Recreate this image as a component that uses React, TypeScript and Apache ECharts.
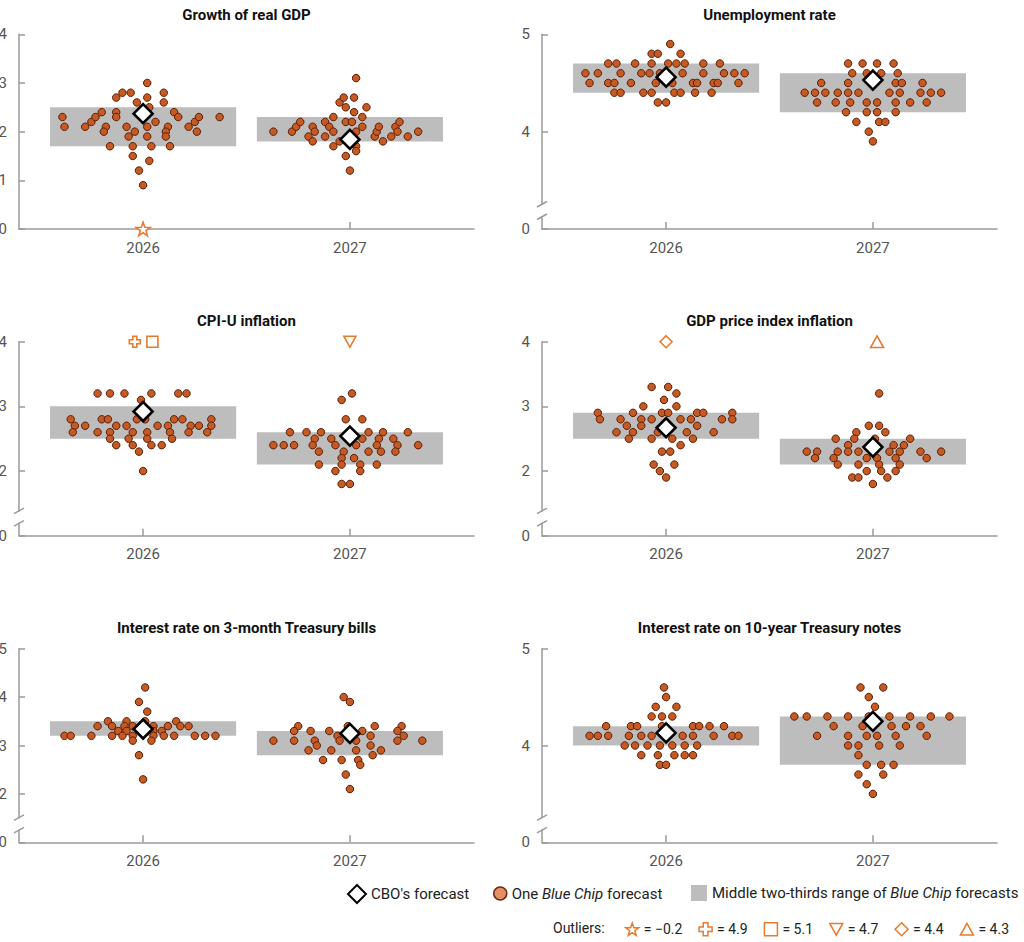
import React, { useEffect, useRef } from "react";
import * as echarts from "echarts";

// ---------- data ----------
const YEARS = ["2026", "2027"];
const TITLES = [
  "Growth of real GDP",
  "Unemployment rate",
  "CPI-U inflation",
  "GDP price index inflation",
  "Interest rate on 3-month Treasury bills",
  "Interest rate on 10-year Treasury notes",
];
// y-axis ranges; the bottom tick is labelled 0 (broken axis when min > 0)
const Y_MIN = [0, 3, 1, 1, 1, 3];
const Y_MAX = [4, 5, 4, 4, 5, 5];

// Blue Chip forecasts: [horizontal jitter within the year's slot, forecast value]
const GDP_2026 = [[-0.39,2.3],[-0.38,2.1],[-0.28,2.1],[-0.25,2.2],[-0.23,2.3],[-0.2,2.4],[-0.18,2.1],[-0.19,2.0],[-0.16,1.7],[-0.13,2.7],[-0.13,2.4],[-0.13,2.3],[-0.1,2.8],[-0.06,2.8],[-0.08,2.1],[-0.07,1.9],[-0.05,1.7],[-0.05,1.5],[-0.04,2.0],[-0.03,2.6],[-0.02,1.2],[0,0.9],[0.02,3.0],[0.02,2.7],[0.03,2.5],[0.02,2.1],[0.02,1.9],[0.03,1.4],[0.04,1.7],[0.06,2.2],[0.1,2.8],[0.1,2.6],[0.12,2.1],[0.11,2.0],[0.11,1.9],[0.13,1.7],[0.15,2.4],[0.17,2.3],[0.22,2.1],[0.25,2.2],[0.27,2.3],[0.26,2.0],[0.37,2.3]];
const GDP_2027 = [[-0.37,2.0],[-0.28,2.0],[-0.26,2.1],[-0.24,2.2],[-0.2,1.9],[-0.18,1.8],[-0.18,2.1],[-0.17,2.0],[-0.12,2.2],[-0.12,1.9],[-0.1,2.1],[-0.08,2.3],[-0.08,2.0],[-0.08,1.7],[-0.05,2.6],[-0.03,2.7],[-0.02,2.5],[-0.02,1.5],[-0.02,2.2],[-0.05,1.8],[0,1.2],[0.01,2.2],[0.02,2.7],[0.02,2.4],[0.03,2.0],[0.03,3.1],[0.03,1.7],[0.03,1.6],[0.06,2.3],[0.06,2.1],[0.08,2.5],[0.12,1.9],[0.13,2.0],[0.14,2.1],[0.16,1.8],[0.2,1.9],[0.22,2.1],[0.24,2.2],[0.23,2.0],[0.28,1.9],[0.33,2.0]];
const UNEMP_2026 = [[0.02,4.9],[-0.07,4.8],[-0.04,4.8],[0.07,4.8],[-0.28,4.7],[-0.24,4.7],[-0.15,4.7],[-0.07,4.7],[0.01,4.7],[0.05,4.7],[0.09,4.7],[0.18,4.7],[0.26,4.7],[-0.39,4.6],[-0.33,4.6],[-0.22,4.6],[-0.12,4.6],[-0.08,4.6],[-0.03,4.6],[0.08,4.6],[0.18,4.6],[0.28,4.6],[0.33,4.6],[0.38,4.6],[-0.37,4.5],[-0.28,4.5],[-0.25,4.5],[-0.17,4.5],[-0.05,4.5],[0.03,4.5],[0.13,4.5],[0.15,4.5],[0.23,4.5],[0.25,4.5],[0.35,4.5],[-0.25,4.4],[-0.22,4.4],[-0.11,4.4],[-0.07,4.4],[0.04,4.4],[0.07,4.4],[0.14,4.4],[0.22,4.4],[-0.04,4.3],[0,4.3]];
const UNEMP_2027 = [[-0.12,4.7],[-0.05,4.7],[0.02,4.7],[0.1,4.7],[-0.1,4.6],[-0.03,4.6],[0.04,4.6],[0.12,4.6],[-0.25,4.5],[-0.12,4.5],[0.11,4.5],[0.14,4.5],[0.24,4.5],[-0.33,4.4],[-0.28,4.4],[-0.23,4.4],[-0.17,4.4],[-0.12,4.4],[-0.07,4.4],[0.08,4.4],[0.13,4.4],[0.23,4.4],[0.28,4.4],[0.33,4.4],[-0.27,4.3],[-0.18,4.3],[-0.11,4.3],[-0.03,4.3],[0.02,4.3],[0.11,4.3],[0.18,4.3],[0.26,4.3],[-0.13,4.2],[-0.03,4.2],[0.02,4.2],[0.11,4.2],[-0.08,4.1],[0.03,4.1],[0.06,4.1],[-0.02,4.0],[0,3.9]];
const CPI_2026 = [[-0.22,3.2],[-0.16,3.2],[-0.09,3.2],[0.04,3.2],[0.17,3.2],[0.21,3.2],[-0.01,3.1],[-0.35,2.8],[-0.2,2.8],[-0.17,2.8],[-0.03,2.8],[0.01,2.8],[0.15,2.8],[0.19,2.8],[0.33,2.8],[-0.33,2.7],[-0.28,2.7],[-0.13,2.7],[-0.08,2.7],[0.07,2.7],[0.12,2.7],[0.23,2.7],[0.27,2.7],[0.33,2.7],[-0.34,2.6],[-0.22,2.6],[-0.16,2.6],[-0.05,2.6],[0.02,2.6],[0.13,2.6],[0.22,2.6],[0.31,2.6],[-0.16,2.5],[-0.07,2.5],[0.02,2.5],[0.14,2.5],[-0.13,2.4],[-0.05,2.4],[0.04,2.4],[0.09,2.4],[-0.02,2.3],[0,2.0]];
const CPI_2027 = [[0.01,3.2],[-0.04,3.1],[-0.02,2.8],[0.06,2.8],[-0.29,2.6],[-0.21,2.6],[-0.14,2.6],[0.09,2.6],[0.16,2.6],[0.28,2.6],[-0.17,2.5],[-0.09,2.5],[0.06,2.5],[0.14,2.5],[0.21,2.5],[-0.37,2.4],[-0.32,2.4],[-0.27,2.4],[-0.18,2.4],[-0.07,2.4],[0.03,2.4],[0.13,2.4],[0.23,2.4],[0.33,2.4],[-0.15,2.3],[-0.03,2.3],[0.09,2.3],[0.15,2.3],[0.22,2.3],[-0.04,2.2],[0.02,2.2],[-0.15,2.1],[-0.04,2.1],[0.05,2.1],[0.13,2.1],[-0.07,2.0],[0.05,2.0],[-0.04,1.8],[0,1.8]];
const GDPPI_2026 = [[-0.07,3.3],[0.01,3.3],[0.05,3.2],[-0.01,3.1],[-0.11,3.0],[0.05,3.0],[-0.33,2.9],[-0.16,2.9],[-0.02,2.9],[0.01,2.9],[0.15,2.9],[0.18,2.9],[0.32,2.9],[-0.32,2.8],[-0.22,2.8],[-0.12,2.8],[-0.07,2.8],[0.07,2.8],[0.12,2.8],[0.27,2.8],[0.32,2.8],[-0.19,2.7],[-0.12,2.7],[0.15,2.7],[-0.24,2.6],[-0.16,2.6],[-0.04,2.6],[0.1,2.6],[0.23,2.6],[-0.18,2.5],[-0.07,2.5],[0.03,2.5],[0.13,2.5],[0.07,2.4],[-0.02,2.3],[0.02,2.3],[-0.06,2.1],[0.04,2.1],[-0.03,2.0],[0,1.9]];
const GDPPI_2027 = [[0.03,3.2],[-0.02,2.7],[0.03,2.7],[-0.08,2.6],[0.06,2.6],[-0.18,2.5],[-0.09,2.5],[0.01,2.5],[0.18,2.5],[-0.12,2.4],[0.1,2.4],[0.15,2.4],[-0.32,2.3],[-0.27,2.3],[-0.17,2.3],[-0.12,2.3],[-0.07,2.3],[0.08,2.3],[0.13,2.3],[0.23,2.3],[0.33,2.3],[-0.28,2.2],[-0.19,2.2],[-0.03,2.2],[0.02,2.2],[0.11,2.2],[0.26,2.2],[-0.17,2.1],[-0.07,2.1],[0.03,2.1],[0.13,2.1],[-0.03,2.0],[0.04,2.0],[0.11,2.0],[-0.1,1.9],[-0.07,1.9],[0.07,1.9],[0,1.8]];
const TBILL_2026 = [[0.01,4.2],[-0.02,3.9],[0.02,3.7],[-0.17,3.5],[-0.08,3.5],[0.01,3.5],[0.16,3.5],[-0.22,3.4],[-0.15,3.4],[-0.09,3.4],[-0.05,3.4],[0.05,3.4],[0.12,3.4],[0.18,3.4],[0.22,3.4],[-0.12,3.3],[-0.08,3.3],[0.05,3.3],[0.09,3.3],[-0.38,3.2],[-0.35,3.2],[-0.25,3.2],[-0.15,3.2],[-0.1,3.2],[-0.05,3.2],[0.05,3.2],[0.1,3.2],[0.15,3.2],[0.25,3.2],[0.3,3.2],[0.35,3.2],[-0.05,3.1],[0.04,3.1],[-0.02,2.8],[0,2.3]];
const TBILL_2027 = [[-0.03,4.0],[0,3.9],[-0.25,3.4],[-0.01,3.4],[0.12,3.4],[0.25,3.4],[-0.27,3.3],[-0.19,3.3],[-0.1,3.3],[0.06,3.3],[0.23,3.3],[-0.06,3.2],[0.1,3.2],[0.26,3.2],[-0.37,3.1],[-0.27,3.1],[-0.17,3.1],[-0.05,3.1],[0.03,3.1],[0.23,3.1],[0.35,3.1],[-0.16,3.0],[0.1,3.0],[-0.2,2.9],[-0.09,2.9],[0.03,2.9],[0.15,2.9],[0.11,2.8],[-0.13,2.7],[-0.04,2.7],[0.04,2.7],[0.05,2.6],[-0.02,2.4],[0,2.1]];
const TNOTE_2026 = [[-0.01,4.6],[0,4.5],[-0.05,4.4],[0.05,4.4],[-0.07,4.3],[-0.02,4.3],[0.03,4.3],[-0.29,4.2],[-0.17,4.2],[-0.14,4.2],[-0.02,4.2],[0.13,4.2],[0.16,4.2],[0.21,4.2],[0.28,4.2],[-0.37,4.1],[-0.33,4.1],[-0.28,4.1],[-0.18,4.1],[-0.12,4.1],[-0.07,4.1],[0.08,4.1],[0.13,4.1],[0.23,4.1],[0.32,4.1],[0.35,4.1],[-0.2,4.0],[-0.15,4.0],[-0.09,4.0],[-0.03,4.0],[0.03,4.0],[0.09,4.0],[0.15,4.0],[-0.12,3.9],[-0.04,3.9],[0.04,3.9],[0.09,3.9],[0.13,3.9],[-0.03,3.8],[0,3.8]];
const TNOTE_2027 = [[-0.06,4.6],[0.05,4.6],[-0.02,4.5],[0.01,4.4],[-0.38,4.3],[-0.32,4.3],[-0.22,4.3],[-0.12,4.3],[-0.02,4.3],[0.08,4.3],[0.18,4.3],[0.28,4.3],[0.37,4.3],[-0.19,4.2],[-0.05,4.2],[0.09,4.2],[0.16,4.2],[0.23,4.2],[-0.27,4.1],[-0.12,4.1],[-0.03,4.1],[0.02,4.1],[0.11,4.1],[0.26,4.1],[-0.12,4.0],[-0.07,4.0],[0.03,4.0],[0.13,4.0],[-0.07,3.9],[-0.03,3.8],[0.04,3.8],[0.1,3.8],[-0.07,3.7],[0.05,3.7],[-0.03,3.6],[0,3.5]];

// CBO's forecast for 2026, 2027
const CBO_GDP = [2.37, 1.84];
const CBO_UNEMP = [4.56, 4.53];
const CBO_CPI = [2.92, 2.54];
const CBO_GDPPI = [2.67, 2.37];
const CBO_TBILL = [3.34, 3.25];
const CBO_TNOTE = [4.13, 4.25];

// Middle two-thirds range of Blue Chip forecasts [low, high] for 2026, 2027
const RANGE_GDP = [[1.7, 2.5], [1.8, 2.3]];
const RANGE_UNEMP = [[4.4, 4.7], [4.2, 4.6]];
const RANGE_CPI = [[2.5, 3.0], [2.1, 2.6]];
const RANGE_GDPPI = [[2.5, 2.9], [2.1, 2.5]];
const RANGE_TBILL = [[3.2, 3.5], [2.8, 3.3]];
const RANGE_TNOTE = [[4.0, 4.2], [3.8, 4.3]];

// Outliers (shown at the axis edge)
const OUTLIER_LABELS = ["= \u22120.2", "= 4.9", "= 5.1", "= 4.7", "= 4.4", "= 4.3"];
const OUTLIER_VALUES = [-0.2, 4.9, 5.1, 4.7, 4.4, 4.3];
const OUTLIER_PANEL = [0, 2, 2, 2, 3, 3];
const OUTLIER_YEAR = [0, 0, 0, 1, 0, 1];
const OUTLIER_JITTER = [0, -0.04, 0.045, 0, 0, 0.02];

const DOTS = [
  [GDP_2026, GDP_2027],
  [UNEMP_2026, UNEMP_2027],
  [CPI_2026, CPI_2027],
  [GDPPI_2026, GDPPI_2027],
  [TBILL_2026, TBILL_2027],
  [TNOTE_2026, TNOTE_2027],
];
const CBO = [CBO_GDP, CBO_UNEMP, CBO_CPI, CBO_GDPPI, CBO_TBILL, CBO_TNOTE];
const RANGES = [RANGE_GDP, RANGE_UNEMP, RANGE_CPI, RANGE_GDPPI, RANGE_TBILL, RANGE_TNOTE];

// ---------- styles ----------
const FONT = 'Roboto, "Noto Sans", sans-serif';
const AXIS_COLOR = "#9a9a9a";
const LABEL_COLOR = "#555";
const DOT_FILL = "#C55A24";
const DOT_BORDER = "#5C1E06";
const BAR_FILL = "#BDBDBD";
const OUT_COLOR = "#E67A2E";
const HALF = 0.45;
const X_MIN = -0.6;
const X_MAX = 1.6;

const CBO_NAME = "CBO's forecast";
const DOT_NAME = "One Blue Chip forecast";
const RANGE_NAME = "Middle two-thirds range of Blue Chip forecasts";

const STAR = "path://M5 0L6.176 3.382L9.755 3.455L6.902 5.618L7.939 9.045L5 7L2.061 9.045L3.098 5.618L0.245 3.455L3.824 3.382Z";
const PLUS = "path://M3.2 0H6.8V3.2H10V6.8H6.8V10H3.2V6.8H0V3.2H3.2Z";
const SQUARE = "path://M0 0H10V10H0Z";
const DOWN_TRI = "path://M0 0H10L5 9Z";
const DIAMOND = "path://M5 0L10 5L5 10L0 5Z";
const UP_TRI = "path://M5 0L10 9H0Z";
const OUT_SYMBOLS = [STAR, PLUS, SQUARE, DOWN_TRI, DIAMOND, UP_TRI];
const OUT_SIZES = [14, 11, 11, 12, 12, 13];

const GRID_LEFT = [19, 542];
const GRID_TOP = [34.3, 341.7, 648.7];
const GRID_H = [194.7, 194, 193.6];
const GRID_W = 455;
const TITLE_Y = [7, 313.5, 620];

export default function App() {
  const ref = useRef<HTMLDivElement>(null);

  useEffect(() => {
    if (!ref.current) return;
    const chart = echarts.init(ref.current, null, { renderer: "svg" });

    const grids: any[] = [];
    const xAxes: any[] = [];
    const yAxes: any[] = [];
    const titles: any[] = [];
    const series: any[] = [];

    for (let i = 0; i < 6; i++) {
      const col = i % 2;
      const row = Math.floor(i / 2);
      grids.push({
        left: GRID_LEFT[col],
        top: GRID_TOP[row],
        width: GRID_W,
        height: GRID_H[row],
        containLabel: false,
        outerBoundsMode: "none",
      });
      titles.push({
        text: TITLES[i],
        left: GRID_LEFT[col] + GRID_W / 2,
        top: TITLE_Y[row],
        textAlign: "center",
        padding: 0,
        textStyle: { fontFamily: FONT, fontSize: 15, fontWeight: "bold", color: "#111" },
      });
      xAxes.push({
        gridIndex: i,
        type: "value",
        min: X_MIN,
        max: X_MAX,
        axisLine: { show: true, onZero: false, lineStyle: { color: AXIS_COLOR, width: 1.5 } },
        axisTick: { show: true, inside: true, length: 7, customValues: [0, 1], lineStyle: { color: AXIS_COLOR, width: 1.5 } },
        axisLabel: {
          customValues: [0, 1],
          formatter: (v: number) => YEARS[Math.round(v)] ?? "",
          margin: 11,
          color: LABEL_COLOR,
          fontFamily: FONT,
          fontSize: 15,
        },
        splitLine: { show: false },
      });
      const ymin = Y_MIN[i];
      yAxes.push({
        gridIndex: i,
        type: "value",
        min: ymin,
        max: Y_MAX[i],
        interval: 1,
        axisLine: { show: true, onZero: false, lineStyle: { color: AXIS_COLOR, width: 1.5 } },
        axisTick: { show: true, inside: true, length: 6, lineStyle: { color: AXIS_COLOR, width: 1.5 } },
        axisLabel: {
          formatter: (v: number) => (v === ymin ? "0" : String(v)),
          margin: 12,
          color: LABEL_COLOR,
          fontFamily: FONT,
          fontSize: 15,
        },
        splitLine: { show: false },
      });

      series.push({
        type: "custom",
        name: RANGE_NAME,
        xAxisIndex: i,
        yAxisIndex: i,
        itemStyle: { color: BAR_FILL },
        encode: { x: 0, y: [1, 2] },
        data: RANGES[i].map((r, j) => [j, r[0], r[1]]),
        renderItem: (params: any, api: any) => {
          const x = api.value(0);
          const lo = api.coord([x - HALF, api.value(1)]);
          const hi = api.coord([x + HALF, api.value(2)]);
          return {
            type: "rect",
            shape: { x: lo[0], y: hi[1], width: hi[0] - lo[0], height: lo[1] - hi[1] },
            style: { fill: BAR_FILL },
          };
        },
        z: 1,
        silent: true,
      });

      DOTS[i].forEach((grp, j) => {
        series.push({
          type: "scatter",
          name: DOT_NAME,
          xAxisIndex: i,
          yAxisIndex: i,
          symbol: "circle",
          symbolSize: 7.5,
          itemStyle: { color: DOT_FILL, borderColor: DOT_BORDER, borderWidth: 1, opacity: 1 },
          data: grp.map(([off, v]) => [j + off, v]),
          z: 2,
        });
      });

      series.push({
        type: "scatter",
        name: CBO_NAME,
        xAxisIndex: i,
        yAxisIndex: i,
        symbol: "diamond",
        symbolSize: 19,
        itemStyle: { color: "#fff", borderColor: "#000", borderWidth: 2.6, opacity: 1 },
        data: CBO[i].map((v, j) => [j, v]),
        z: 3,
      });
    }

    OUTLIER_VALUES.forEach((v, k) => {
      const p = OUTLIER_PANEL[k];
      const shown = Math.min(Math.max(v, Y_MIN[p]), Y_MAX[p]);
      series.push({
        type: "scatter",
        name: OUTLIER_LABELS[k],
        xAxisIndex: p,
        yAxisIndex: p,
        symbol: OUT_SYMBOLS[k],
        symbolSize: OUT_SIZES[k],
        symbolKeepAspect: true,
        itemStyle: { color: "#fff", borderColor: OUT_COLOR, borderWidth: 1.6, opacity: 1 },
        data: [[OUTLIER_YEAR[k] + OUTLIER_JITTER[k], shown]],
        z: 4,
      });
    });

    const legendText = (size: number) => ({
      fontFamily: FONT,
      fontSize: size,
      color: "#222",
      rich: { i: { fontFamily: FONT, fontSize: size, color: "#222", fontStyle: "italic" } },
    });
    const italic = (name: string) => name.replace("Blue Chip", "{i|Blue Chip}");

    chart.setOption({
      animation: false,
      backgroundColor: "#fff",
      title: titles,
      grid: grids,
      xAxis: xAxes,
      yAxis: yAxes,
      legend: [
        {
          left: 347,
          top: 884,
          padding: 0,
          itemWidth: 18,
          itemHeight: 18,
          selectedMode: false,
          data: [{ name: CBO_NAME, icon: "diamond", itemStyle: { color: "#fff", borderColor: "#000", borderWidth: 2 } }],
          textStyle: legendText(15),
        },
        {
          left: 493,
          top: 886,
          padding: 0,
          itemWidth: 13,
          itemHeight: 13,
          selectedMode: false,
          data: [{ name: DOT_NAME, icon: "circle", itemStyle: { color: "#E39062", borderColor: "#6B2A10", borderWidth: 1.5 } }],
          formatter: italic,
          textStyle: legendText(15),
        },
        {
          left: 691,
          top: 885,
          padding: 0,
          itemWidth: 16,
          itemHeight: 16,
          selectedMode: false,
          data: [{ name: RANGE_NAME, icon: "rect", itemStyle: { color: BAR_FILL, borderWidth: 0 } }],
          formatter: italic,
          textStyle: legendText(15),
        },
        {
          left: 625,
          top: 922,
          width: 420,
          padding: 0,
          itemGap: 16,
          itemWidth: 13,
          itemHeight: 13,
          selectedMode: false,
          data: OUTLIER_LABELS.map((n) => ({
            name: n,
            itemStyle: { color: "#fff", borderColor: OUT_COLOR, borderWidth: 1.5 },
          })),
          textStyle: legendText(14),
        },
      ],
      series,
    });

    // axis-break marks and the "Outliers:" label
    const graphic: any[] = [
      {
        type: "text",
        left: 553,
        top: 921,
        style: { text: "Outliers:", fontFamily: FONT, fontSize: 14, fill: "#222" },
      },
    ];
    for (let i = 0; i < 6; i++) {
      if (Y_MIN[i] === 0) continue;
      const pt = chart.convertToPixel({ xAxisIndex: i, yAxisIndex: i }, [X_MIN, Y_MIN[i]]) as number[];
      const x = pt[0];
      const yb = pt[1];
      graphic.push({
        type: "rect",
        shape: { x: x - 3, y: yb - 24, width: 6, height: 11 },
        style: { fill: "#fff" },
        z: 100,
        silent: true,
      });
      graphic.push({
        type: "line",
        shape: { x1: x - 5, y1: yb - 22, x2: x + 5, y2: yb - 27.5 },
        style: { stroke: AXIS_COLOR, lineWidth: 1.5 },
        z: 101,
        silent: true,
      });
      graphic.push({
        type: "line",
        shape: { x1: x - 5, y1: yb - 9.5, x2: x + 5, y2: yb - 15 },
        style: { stroke: AXIS_COLOR, lineWidth: 1.5 },
        z: 101,
        silent: true,
      });
    }
    chart.setOption({ graphic });

    return () => chart.dispose();
  }, []);

  return (
    <div
      ref={ref}
      style={{ position: "absolute", left: 0, top: 0, width: 1024, height: 942, background: "#fff" }}
    />
  );
}
